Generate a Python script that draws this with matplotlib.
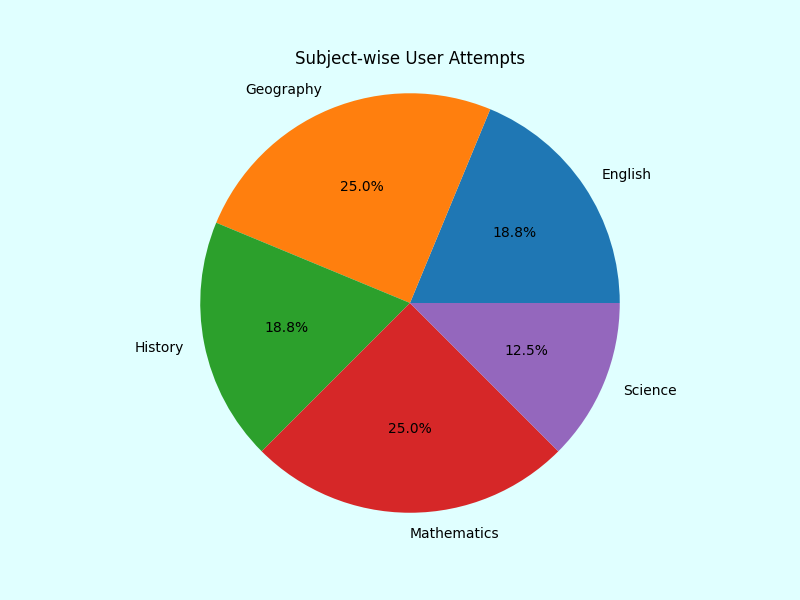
import matplotlib
matplotlib.use('Agg')
import matplotlib.pyplot as plt

# Attempts per subject
subjects = ['English', 'Geography', 'History', 'Mathematics', 'Science']
attempts = [3, 4, 3, 4, 2]

fig = plt.figure(figsize=(8, 6), facecolor='lightcyan')
plt.pie(attempts, labels=subjects, autopct='%1.1f%%', radius=1.135)
plt.title('Subject-wise User Attempts')
plt.savefig('out.png', dpi=100, facecolor=fig.get_facecolor())
